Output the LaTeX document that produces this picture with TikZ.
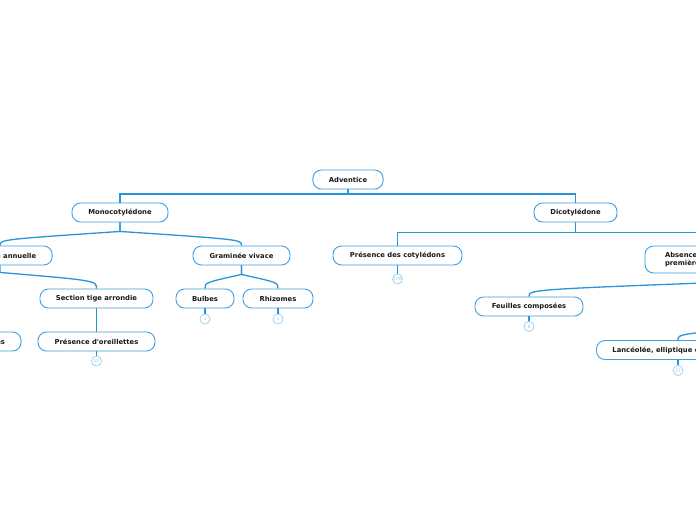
\documentclass[tikz,border=0pt]{standalone}
\usepackage{fontspec}
\setsansfont{DejaVu Sans}
\definecolor{boxc}{RGB}{60,160,225}
\definecolor{linec}{RGB}{40,148,218}
\definecolor{badgec}{RGB}{150,205,240}
\definecolor{txtc}{RGB}{25,25,25}
\begin{document}
\begin{tikzpicture}[x=1pt,y=-1pt,
  topic/.style={draw=boxc, line width=0.9pt, rounded corners=8.5pt, fill=white,
    inner xsep=16pt, inner ysep=0pt, minimum height=19pt,
    font=\sffamily\bfseries\fontsize{6.8}{8.6}\selectfont, text=txtc},
  badge/.style={draw=badgec, line width=0.7pt, circle, minimum size=10pt, inner sep=0pt,
    font=\sffamily\fontsize{4.5}{4.5}\selectfont, text=badgec, fill=white},
  conn/.style={draw=linec, line width=1.3pt},
  bconn/.style={draw=linec, line width=1.2pt}]
\useasboundingbox (0,0) rectangle (696,520);
\clip (0,0) rectangle (696,520);

% nodes
\node[topic] (adv) at (348,179.5) {Adventice};
\node[topic, minimum width=96pt] (mono) at (120,212.5) {Monocotylédone};
\node[topic, minimum width=83pt] (dico) at (575.5,212.5) {Dicotylédone};
\node[topic, minimum width=104pt] (ann) at (0,255.5) {Graminée annuelle};
\node[topic, minimum width=97pt] (viv) at (241.5,255.5) {Graminée vivace};
\node[topic, minimum width=113pt] (sect) at (96.5,298.5) {Section tige arrondie};
\node[topic, minimum width=117pt] (oreil) at (96.5,341.5) {Présence d\textquotesingle oreillettes};
\node[topic, anchor=east] (abso) at (21.5,341.5) {Absence d\textquotesingle oreillettes};
\node[topic, minimum width=58pt] (bulb) at (205,298.5) {Bulbes};
\node[topic, minimum width=70pt] (rhiz) at (278,298.5) {Rhizomes};
\node[topic, minimum width=129pt] (pres) at (397.5,255.5) {Présence des cotylédons};
\node[topic, minimum height=27pt, inner xsep=20pt, text width=158pt, align=left] (absc) at (744,259.5)
  {Absence de cotylédons,\\premières feuilles vraies};
\node[topic, minimum width=108pt] (feuil) at (529,306.5) {Feuilles composées};
\node[topic, anchor=west] (lanc) at (596,350) {Lancéolée, elliptique ou ovale};
\coordinate (lancin) at (770,326);

% badges
\node[badge] (b109) at (397.5,279) {109};
\node[badge] (b10) at (96.5,361) {10};
\node[badge] (b1a) at (205,319) {1};
\node[badge] (b1b) at (278,319) {1};
\node[badge] (b8) at (529,326.5) {8};
\node[badge] (b27) at (678,370.5) {27};

% orthogonal connectors
\draw[conn] (adv.south) -- ++(0,4.5) -| (mono.north);
\draw[conn] (adv.south) -- ++(0,4.5) -| (dico.north);
\draw[conn] (dico.south) -- ++(0,10) -| (pres.north);
\draw[conn] (dico.south) -- ++(0,10) -| (absc.north);
\draw[conn] (sect.south) -- (oreil.north);

% curved connectors
\draw[conn] (mono.south) -- ++(0,9) .. controls ([yshift=6pt]ann.north) .. (ann.north);
\draw[conn] (mono.south) -- ++(0,9) .. controls ([yshift=6pt]viv.north) .. (viv.north);
\draw[conn] (viv.south) -- ++(0,9) .. controls ([yshift=6pt]bulb.north) .. (bulb.north);
\draw[conn] (viv.south) -- ++(0,9) .. controls ([yshift=6pt]rhiz.north) .. (rhiz.north);
\draw[conn] (ann.south) -- ++(0,7) .. controls ([yshift=8pt]sect.north) .. (sect.north);
\draw[conn] (absc.south) -- ++(0,8) .. controls ([yshift=7pt]feuil.north) .. (feuil.north);
\draw[conn] (lancin) .. controls ([yshift=6pt]b27 |- lanc.north) .. (b27 |- lanc.north);

% badge connectors
\draw[bconn] (pres.south) -- (b109.north);
\draw[bconn] (oreil.south) -- (b10.north);
\draw[bconn] (bulb.south) -- (b1a.north);
\draw[bconn] (rhiz.south) -- (b1b.north);
\draw[bconn] (feuil.south) -- (b8.north);
\draw[bconn] (b27 |- lanc.south) -- (b27.north);
\end{tikzpicture}
\end{document}
